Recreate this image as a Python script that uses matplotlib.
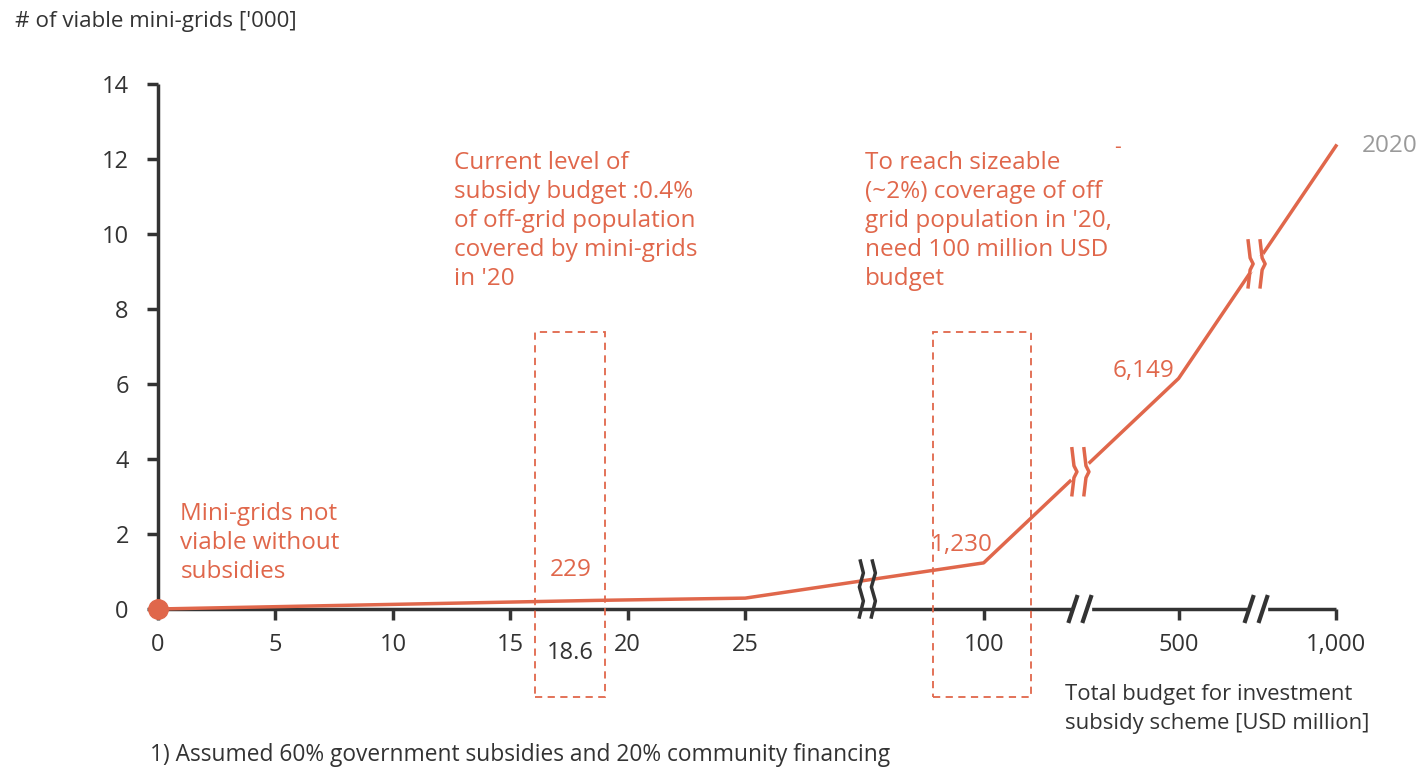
import numpy as np
import matplotlib.pyplot as plt
import matplotlib.transforms as mtransforms
from matplotlib.lines import Line2D
from matplotlib.patches import Rectangle

plt.rcParams['font.family'] = ['Open Sans', 'DejaVu Sans']

# data
budget_ticks = [0, 5, 10, 15, 20, 25, 100, 500, 1000]
tick_labels = ['0', '5', '10', '15', '20', '25', '100', '500', '1,000']
y_ticks = [0, 2, 4, 6, 8, 10, 12, 14]

curve_budget = [0, 18.6, 25, 100, 500, 1000]
curve_grids = [0, 0.229, 0.29, 1.23, 6.149, 12.35]   # '000 mini-grids

current_budget = 18.6
current_grids = '229'
target_budget = 100
target_grids = '1,230'
high_grids = '6,149'

# layout: position of each tick on the broken x axis
tick_slot = [0, 1, 2, 3, 4, 5, 7.03, 8.69, 10.03]
break_slots = [6.04, 7.85, 9.35]

ORANGE = '#E0674B'
DARK = '#333333'
GREY = '#9a9a9a'


def slot(b):
    return np.interp(b, budget_ticks, tick_slot)


fig = plt.figure(figsize=(14.16, 7.69), dpi=100)
W, H = 1416, 769
ax = fig.add_axes([158 / W, (H - 609) / H, (1336 - 158) / W, (609 - 84) / H])
ax.set_xlim(0, 10.03)
ax.set_ylim(0, 14)
for s in ['top', 'right']:
    ax.spines[s].set_visible(False)
for s in ['left', 'bottom']:
    ax.spines[s].set_linewidth(2.5)
    ax.spines[s].set_color(DARK)
    ax.spines[s].set_capstyle('butt')

ax.set_xticks(tick_slot, tick_labels)
ax.set_yticks(y_ticks, [str(v) for v in y_ticks])
ax.tick_params(axis='both', colors=DARK, labelcolor=DARK, labelsize=17,
               length=8, width=2.5, direction='out')
ax.tick_params(axis='x', pad=9)
ax.tick_params(axis='y', pad=13)

# curve
xs = slot(curve_budget)
ax.plot(xs, curve_grids, color=ORANGE, lw=2.5, clip_on=False, zorder=3)
ax.plot([0], [0], 'o', color=ORANGE, ms=14, clip_on=False, zorder=5)

# dashed boxes
box_w = [(3.21, 3.81), (6.60, 7.43)]
for x0, x1 in box_w:
    ax.add_patch(Rectangle((x0, -2.35), x1 - x0, 7.39 + 2.35, fill=False,
                           ec=ORANGE, lw=1.3, ls=(0, (4, 3)), clip_on=False, zorder=4))


def to_px(x, y):
    return ax.transData.transform((x, y))


def draw_px(pts, **kw):
    xs_, ys_ = zip(*pts)
    fig.add_artist(Line2D(xs_, ys_, transform=mtransforms.IdentityTransform(), **kw))


def wavy(cx, cy, color, half=23):
    # two wavy strokes across a line
    for off in (-6, 6):
        pts = [(cx + off - 2, cy + half), (cx + off, cy + 6), (cx + off + 3, cy),
               (cx + off, cy - 6), (cx + off - 2, cy - half)]
        draw_px(pts, color=color, lw=2.5, zorder=6)


# break on the curve and axis between 25 and 100
bx, by = to_px(break_slots[0], 0)
for off in (-6, 6):
    pts = [(bx + off - 2, by - 8), (bx + off + 2, by + 8), (bx + off - 2, by + 22),
           (bx + off + 2, by + 36), (bx + off - 1, by + 48)]
    draw_px(pts, color=DARK, lw=2.5, zorder=6)

# breaks between 100/500 and 500/1000
for s in break_slots[1:]:
    y = np.interp(s, xs, curve_grids)
    cx, cy = to_px(s, y)
    draw_px([(cx - 6, cy - 5), (cx + 6, cy + 5)], color='white', lw=6, zorder=5)
    wavy(cx, cy, ORANGE)
    ax_x, ax_y = to_px(s, 0)
    draw_px([(ax_x - 4, ax_y), (ax_x + 8, ax_y)], color='white', lw=6, zorder=5)
    for off in (-7, 7):
        draw_px([(ax_x + off - 4, ax_y - 12), (ax_x + off + 4, ax_y + 12)],
                color=DARK, lw=3, zorder=6)

# labels
fs = 17.5
ls = 1.28
ax.text(0.19, 2.86, 'Mini-grids not\nviable without\nsubsidies', color=ORANGE,
        fontsize=fs, va='top', ha='left', linespacing=ls)
ax.text(2.52, 12.22, "Current level of\nsubsidy budget :0.4%\nof off-grid population\n"
        "covered by mini-grids\nin '20", color=ORANGE, fontsize=fs, va='top',
        ha='left', linespacing=ls)
ax.text(6.02, 12.22, "To reach sizeable\n(~2%) coverage of off\ngrid population in '20,\n"
        "need 100 million USD\nbudget", color=ORANGE, fontsize=fs, va='top',
        ha='left', linespacing=ls)
ax.text(8.14, 12.3, '-', color=ORANGE, fontsize=15, ha='left', va='center')
ax.text(10.25, 12.35, '2020', color=GREY, fontsize=fs, ha='left', va='center')
ax.text(3.51, 1.05, current_grids, color=ORANGE, fontsize=fs, ha='center', va='center')
ax.text(7.11, 1.7, target_grids, color=ORANGE, fontsize=fs, ha='right', va='center')
ax.text(8.65, 6.35, high_grids, color=ORANGE, fontsize=fs, ha='right', va='center')
ax.text(3.51, -1.18, str(current_budget), color=DARK, fontsize=17, ha='center', va='center')

fig.text(15 / W, 1 - 22 / H, "# of viable mini-grids ['000]", color=DARK,
         fontsize=16.1, ha='left', va='center')
fig.text(1065 / W, 1 - 709 / H, 'Total budget for investment\nsubsidy scheme [USD million]',
         color=DARK, fontsize=15.9, ha='left', va='center', linespacing=1.45)
fig.text(150 / W, 1 - 755 / H,
         '1) Assumed 60% government subsidies and 20% community financing',
         color=DARK, fontsize=16.4, ha='left', va='center')

fig.savefig('out.png', dpi=100)
